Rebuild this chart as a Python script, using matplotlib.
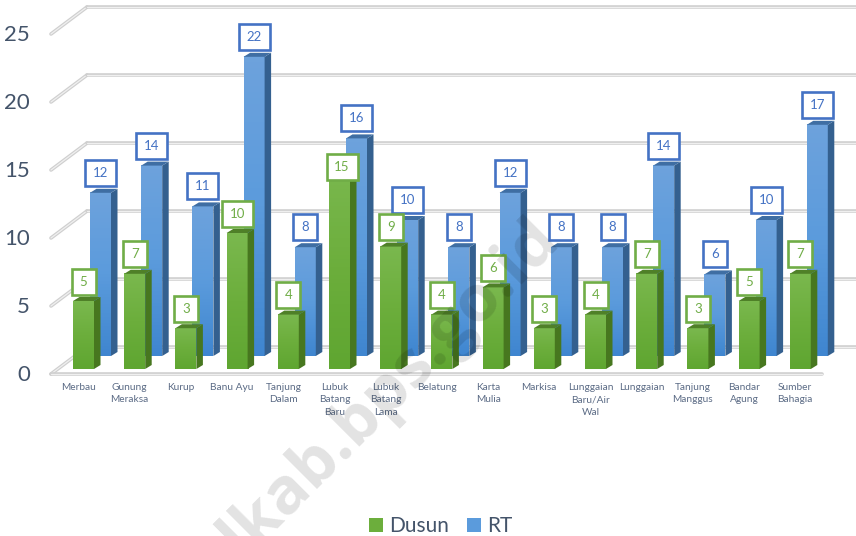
import numpy as np
import matplotlib
matplotlib.use("Agg")
import matplotlib.pyplot as plt
from matplotlib.colors import LinearSegmentedColormap
from matplotlib.patches import Polygon, Rectangle

desa = ["Merbau", "Gunung\nMeraksa", "Kurup", "Banu Ayu", "Tanjung\nDalam",
        "Lubuk\nBatang\nBaru", "Lubuk\nBatang\nLama", "Belatung", "Karta\nMulia",
        "Markisa", "Lunggaian\nBaru/Air\nWal", "Lunggaian", "Tanjung\nManggus",
        "Bandar\nAgung", "Sumber\nBahagia"]
dusun = [5, 7, 3, 10, 4, 15, 9, 4, 6, 3, 4, 7, 3, 5, 7]
rt = [12, 14, 11, 22, 8, 16, 10, 8, 12, 8, 8, 14, 6, 10, 17]
y_ticks = [0, 5, 10, 15, 20, 25]

plt.rcParams['font.family'] = ['Lato', 'DejaVu Sans']

# one category = 51.2 px, one unit = 13.6 px, used for the fake 3d offsets #
PX = 1 / 51.2
PY = 1 / 13.6
W = 856
H = 536

fig = plt.figure(figsize=(W / 100, H / 100), dpi=100)
ax = fig.add_axes([0, 0, 1, 1])
ax.axis("off")
xlim = (-83.5 * PX, (W - 83.5) * PX)
ylim = ((369 - H) * PY, 369 * PY)


def grid_line(xs, ys):
    ax.plot(xs, ys, color="#cfcfcf", lw=2.6, zorder=1, solid_capstyle="round")
    ax.plot(xs, ys, color="#efefef", lw=0.9, zorder=1, solid_capstyle="round")


# walls and floor #
x_front = -32.5 * PX
x_back = 3.5 * PX
y_front = -5 * PY
y_back = 22 * PY
for v in y_ticks:
    grid_line([x_front, x_back], [v + y_front, v + y_back])
    grid_line([x_back, xlim[1] + 0.1], [v + y_back, v + y_back])
grid_line([x_front, 738.5 * PX], [y_front, y_front])
for v in y_ticks:
    ax.text(-53.5 * PX, v - 6 * PY, str(v), ha="right", va="center", fontsize=16, color="#44546a")


def bar_3d(x, val, shift_x, shift_y, front, side, top, z):
    l = x - 10.5 * PX + shift_x
    r = x + 10.5 * PX + shift_x
    b = shift_y
    t = val + shift_y
    dx = 6.5 * PX
    dy = 4 * PY
    cmap = LinearSegmentedColormap.from_list("f", front)
    ax.bar(l, val, width=r - l, bottom=b, align="edge", color=front[1], zorder=z)
    ax.imshow(np.linspace(1, 0, 50).reshape(-1, 1), cmap=cmap, aspect="auto",
              extent=[l, r, b, t], zorder=z + 0.1)
    ax.add_patch(Polygon([(r, b), (r, t), (r + dx, t + dy), (r + dx, b + dy)],
                         fc=side, ec="none", zorder=z + 0.1))
    ax.add_patch(Polygon([(l, t), (l + dx, t + dy), (r + dx, t + dy), (r, t)],
                         fc=top, ec="none", zorder=z + 0.1))


def label_box(x, y, val, color, z):
    w = (24 + 7 * (len(str(val)) - 1)) * PX
    h = 26 * PY
    ax.add_patch(Rectangle((x - w / 2, y - h / 2), w, h, fc="white", ec=color, lw=1.9, zorder=z))
    ax.text(x, y, str(val), ha="center", va="center", fontsize=9.5, color=color, zorder=z + 0.1)


blue = ["#3f86d0", "#5b9bdc", "#6da2dc"]
green = ["#5fa631", "#6cae3c", "#7ab84e"]
for i, val in enumerate(rt):
    bar_3d(i, val, 17 * PX, 13 * PY, blue, "#34608f", "#3f6ea3", 3)
for i, val in enumerate(dusun):
    bar_3d(i, val, 0, 0, green, "#47771f", "#4f8028", 4)

for i, val in enumerate(rt):
    label_box(i + 17 * PX, val + 13 * PY + 20 * PY, val, "#4472c4", 6)
for i, val in enumerate(dusun):
    if val == 15:
        # this label sits on the bar top in the original #
        label_box(i + 2.5 * PX, val - 2 * PY, val, "#70ad47", 7)
    else:
        label_box(i, val + 19.5 * PY, val, "#70ad47", 7)

for i, name in enumerate(desa):
    ax.text(i - 5 * PX, -14 * PY, name, ha="center", va="top", fontsize=7.3,
            color="#5b6b85", linespacing=1.5, zorder=5)

# legend #
h1 = ax.bar(-5, 0, color="#6cae3c", label="Dusun")
h2 = ax.bar(-5, 0, color="#5b9bdc", label="RT")
ax.legend(handles=[h1, h2], loc="center", bbox_to_anchor=(440.5 / W, 1 - 526 / H), ncol=2,
          frameon=False, fontsize=15, handlelength=0.67, handleheight=0.67, handletextpad=0.3,
          columnspacing=0.85, labelcolor="#44546a", borderpad=0)

# watermark #
ax.text(390 * PX - 83.5 * PX, (369 - 388) * PY, "lkab.bps.go.id", rotation=45,
        rotation_mode="anchor", ha="center", va="center", fontsize=47, fontweight="bold",
        family=["Open Sans", "DejaVu Sans"], color="black", alpha=0.115, zorder=9)

ax.set_xlim(*xlim)
ax.set_ylim(*ylim)
fig.savefig("out.png", dpi=100)
